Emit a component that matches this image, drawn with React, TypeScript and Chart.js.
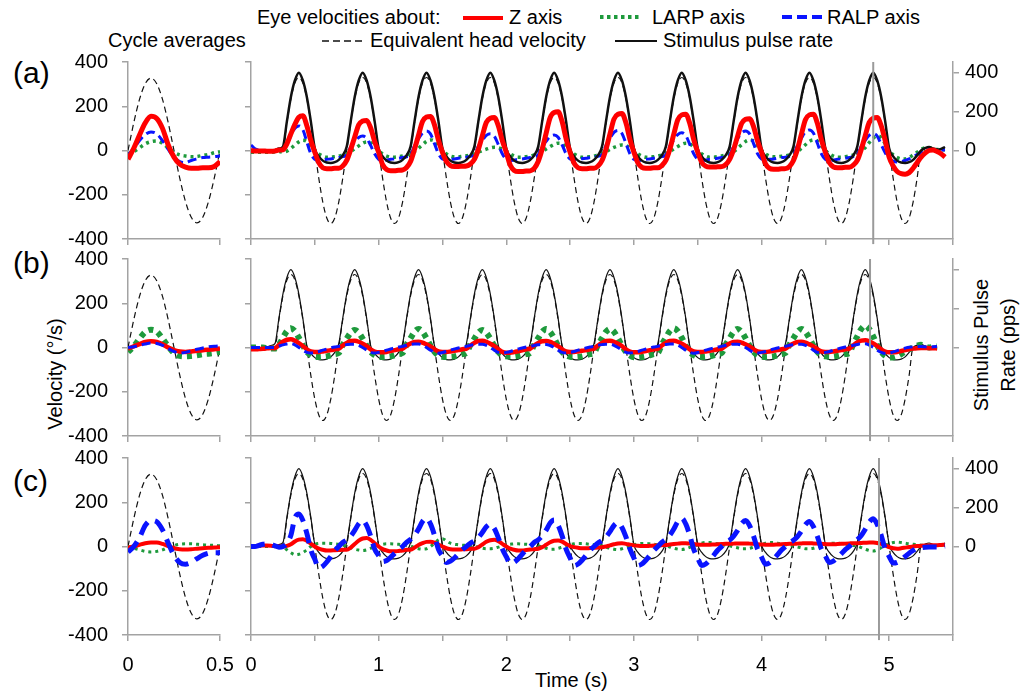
import React, { useEffect, useRef } from 'react';
import { Chart, registerables } from 'chart.js';

Chart.register(...registerables);

const FONT = "'Liberation Sans', Arial, Helvetica, sans-serif";
Chart.defaults.font.family = FONT;
Chart.defaults.font.size = 20;
Chart.defaults.color = '#000';

// ---------- sampling (1/32 s) ----------
const SAMPLE_RATE = 32; // samples per second
const N_SAMPLES = 175;
const SAMPLE_TIMES: number[] = Array.from({ length: N_SAMPLES }, (_, i) => i / SAMPLE_RATE);
const CYCLE_TIMES: number[] = [0, 0.03125, 0.0625, 0.09375, 0.125, 0.15625, 0.1875, 0.21875, 0.25, 0.28125, 0.3125, 0.34375, 0.375, 0.40625, 0.4375, 0.46875, 0.5];

// ---------- tick values ----------
const VEL_TICK_STEP = 200;
const PULSE_TICKS = [0, 200, 400];
const TIME_TICK_STEP = 0.5;

// ---------- vertical marker times (s) ----------
const MARK_A = 4.875;
const MARK_B = 4.85;
const MARK_C = 4.92;

// ---------- cycle averages (deg/s) ----------
const CYC_HEAD = [0, 125, 231, 302, 327, 302, 231, 125, 0, -125, -231, -302, -327, -302, -231, -125, 0];
const CYC_Z_A = [-40, 10, 70, 125, 155, 145, 100, 25, -30, -62, -75, -80, -80, -78, -78, -72, -50];
const CYC_RALP_A = [-20, 10, 45, 72, 84, 75, 45, 5, -30, -50, -55, -45, -38, -32, -30, -28, -25];
const CYC_LARP_A = [-15, -5, 12, 30, 40, 43, 32, 12, -8, -20, -25, -28, -27, -22, -18, -10, -5];
const CYC_Z_B = [-5, 5, 15, 25, 28, 25, 15, 0, -12, -18, -20, -18, -15, -12, -10, -8, -5];
const CYC_RALP_B = [0, 3, 10, 16, 20, 18, 10, -5, -18, -25, -22, -15, -8, -2, 3, 6, 8];
const CYC_LARP_B = [-20, 5, 40, 70, 80, 72, 40, 5, -25, -38, -40, -38, -35, -30, -28, -25, -20];
const CYC_Z_C = [-5, 0, 8, 15, 18, 18, 12, 2, -8, -12, -13, -12, -10, -8, -6, -5, -3];
const CYC_RALP_C = [-25, 0, 40, 95, 118, 112, 75, 15, -40, -72, -80, -72, -55, -40, -30, -28, -28];
const CYC_LARP_C = [0, -8, -15, -22, -25, -22, -15, -3, 5, 10, 12, 12, 10, 8, 6, 5, 3];

// ---------- time series, panels (a) and (c) timing ----------
const HEAD_A = [
  0, 0, 0, 0, 0, 0, 0, 0,
  0, 126, 233, 305, 330, 305, 233, 126, 0, -126, -233, -305, -330, -305, -233, -126,
  0, 126, 233, 305, 330, 305, 233, 126, 0, -126, -233, -305, -330, -305, -233, -126,
  0, 126, 233, 305, 330, 305, 233, 126, 0, -126, -233, -305, -330, -305, -233, -126,
  0, 126, 233, 305, 330, 305, 233, 126, 0, -126, -233, -305, -330, -305, -233, -126,
  0, 126, 233, 305, 330, 305, 233, 126, 0, -126, -233, -305, -330, -305, -233, -126,
  0, 126, 233, 305, 330, 305, 233, 126, 0, -126, -233, -305, -330, -305, -233, -126,
  0, 126, 233, 305, 330, 305, 233, 126, 0, -126, -233, -305, -330, -305, -233, -126,
  0, 126, 233, 305, 330, 305, 233, 126, 0, -126, -233, -305, -330, -305, -233, -126,
  0, 126, 233, 305, 330, 305, 233, 126, 0, -126, -233, -305, -330, -305, -233, -126,
  0, 126, 233, 305, 330, 305, 233, 126, 0, -126, -233, -305, -330, -305, -233, -126,
  0, 0, 0, 0, 0, 0, 0,
];
const PULSE_A = [
  0, 0, 0, 0, 0, 0, 2, 10,
  20, 150, 275, 360, 400, 360, 275, 150, 10, -30, -52, -62, -64, -60, -48, -25,
  20, 150, 275, 360, 400, 360, 275, 150, 10, -30, -52, -62, -64, -60, -48, -25,
  20, 150, 275, 360, 400, 360, 275, 150, 10, -30, -52, -62, -64, -60, -48, -25,
  20, 150, 275, 360, 400, 360, 275, 150, 10, -30, -52, -62, -64, -60, -48, -25,
  20, 150, 275, 360, 400, 360, 275, 150, 10, -30, -52, -62, -64, -60, -48, -25,
  20, 150, 275, 360, 400, 360, 275, 150, 10, -30, -52, -62, -64, -60, -48, -25,
  20, 150, 275, 360, 400, 360, 275, 150, 10, -30, -52, -62, -64, -60, -48, -25,
  20, 150, 275, 360, 400, 360, 275, 150, 10, -30, -52, -62, -64, -60, -48, -25,
  20, 150, 275, 360, 400, 360, 275, 150, 10, -30, -52, -62, -64, -60, -48, -25,
  20, 150, 275, 360, 400, 360, 275, 150, 10, -30, -52, -62, -64, -60, -48, -25,
  0, 12, 18, 10, 5, 8, 18,
];
const Z_A = [
  0, -2, -2, -2, -3, -3, -2, 2,
  3, 30, 75, 118, 150, 157, 112, 45, -8, -55, -78, -82, -82, -80, -80, -70,
  -45, 5, 61, 116, 133, 136, 102, 41, -8, -64, -86, -91, -91, -89, -88, -77,
  -50, 6, 69, 131, 151, 154, 116, 46, -8, -50, -68, -72, -72, -71, -70, -61,
  -40, 5, 67, 127, 146, 149, 112, 45, -8, -67, -90, -95, -95, -93, -92, -81,
  -50, 6, 79, 149, 172, 175, 131, 53, -8, -57, -78, -82, -82, -80, -80, -70,
  -45, 6, 75, 142, 164, 167, 125, 50, -8, -56, -76, -80, -80, -78, -78, -68,
  -45, 6, 74, 139, 161, 164, 123, 49, -8, -53, -71, -75, -75, -74, -73, -64,
  -40, 5, 65, 122, 141, 144, 108, 43, -8, -60, -81, -85, -85, -83, -82, -72,
  -45, 6, 74, 139, 161, 164, 123, 49, -8, -55, -74, -78, -78, -76, -76, -66,
  -45, 5, 67, 127, 146, 149, 112, 45, -30, -70, -95, -105, -107, -100, -80, -55,
  -30, -12, 0, 2, -5, -15, -30,
];
const RALP_A = [
  25, 8, 2, 0, 0, 0, 0, 0,
  0, 28, 67, 100, 111, 94, 39, -15, -40, -45, -43, -40, -38, -35, -32, -28,
  -20, 16, 39, 59, 65, 55, 23, -15, -40, -45, -43, -40, -38, -35, -32, -28,
  -20, 22, 53, 79, 88, 75, 31, -15, -38, -42, -40, -38, -35, -32, -30, -26,
  -20, 19, 46, 68, 76, 65, 27, -15, -40, -45, -43, -40, -38, -35, -32, -28,
  -20, 18, 42, 63, 70, 60, 25, -15, -38, -42, -40, -37, -35, -32, -30, -26,
  -20, 23, 55, 82, 91, 77, 32, -15, -40, -45, -43, -40, -38, -35, -32, -28,
  -20, 20, 48, 72, 80, 68, 28, -15, -40, -45, -43, -40, -38, -35, -32, -28,
  -20, 22, 53, 79, 88, 75, 31, -15, -38, -42, -40, -38, -35, -32, -30, -26,
  -20, 23, 56, 84, 93, 79, 33, -15, -40, -45, -43, -40, -38, -35, -32, -28,
  -20, 19, 46, 68, 76, 65, 27, -10, -35, -48, -52, -50, -45, -38, -28, -18,
  -8, 0, 5, 5, 3, 2, 3,
];
const LARP_A = [
  -8, -8, -8, -8, -8, -8, -6, -4,
  -8, -3, 9, 25, 39, 46, 41, 21, 0, -15, -25, -30, -30, -28, -25, -20,
  -15, -5, 8, 21, 33, 39, 35, 18, 0, -15, -25, -30, -30, -28, -25, -20,
  -15, -5, 10, 26, 41, 48, 43, 22, 0, -15, -25, -28, -28, -26, -24, -20,
  -15, -8, 0, 6, 12, 15, 13, 6, -3, -15, -25, -30, -30, -28, -25, -20,
  -15, -5, 7, 18, 28, 33, 30, 15, 0, -15, -25, -30, -30, -28, -25, -20,
  -15, -6, 5, 14, 21, 25, 22, 11, 0, -15, -25, -30, -30, -28, -25, -20,
  -15, -5, 7, 18, 28, 33, 30, 15, 0, -15, -25, -30, -30, -28, -25, -20,
  -15, -5, 10, 26, 41, 48, 43, 22, 0, -15, -25, -28, -28, -26, -24, -20,
  -15, -5, 10, 26, 41, 48, 43, 22, 0, -15, -25, -30, -30, -28, -25, -20,
  -15, -3, 13, 36, 56, 66, 59, 30, 0, -20, -32, -38, -38, -32, -20, -8,
  5, 12, 12, 8, 5, 3, 3,
];

// ---------- time series, panel (b) timing ----------
const HEAD_B = [
  0, 0, 0, 0, 0, 0,
  0, 126, 233, 305, 330, 305, 233, 126, 0, -126, -233, -305, -330, -305, -233, -126,
  0, 126, 233, 305, 330, 305, 233, 126, 0, -126, -233, -305, -330, -305, -233, -126,
  0, 126, 233, 305, 330, 305, 233, 126, 0, -126, -233, -305, -330, -305, -233, -126,
  0, 126, 233, 305, 330, 305, 233, 126, 0, -126, -233, -305, -330, -305, -233, -126,
  0, 126, 233, 305, 330, 305, 233, 126, 0, -126, -233, -305, -330, -305, -233, -126,
  0, 126, 233, 305, 330, 305, 233, 126, 0, -126, -233, -305, -330, -305, -233, -126,
  0, 126, 233, 305, 330, 305, 233, 126, 0, -126, -233, -305, -330, -305, -233, -126,
  0, 126, 233, 305, 330, 305, 233, 126, 0, -126, -233, -305, -330, -305, -233, -126,
  0, 126, 233, 305, 330, 305, 233, 126, 0, -126, -233, -305, -330, -305, -233, -126,
  0, 126, 233, 305, 330, 305, 233, 126, 0, -126, -233, -305, -330, -305, -233, -126,
  0, 0, 0, 0, 0, 0, 0, null, null,
];
const PULSE_B = [
  0, 0, 0, 0, 2, 10,
  20, 150, 275, 360, 400, 360, 275, 150, 10, -30, -52, -62, -64, -60, -48, -25,
  20, 150, 275, 360, 400, 360, 275, 150, 10, -30, -52, -62, -64, -60, -48, -25,
  20, 150, 275, 360, 400, 360, 275, 150, 10, -30, -52, -62, -64, -60, -48, -25,
  20, 150, 275, 360, 400, 360, 275, 150, 10, -30, -52, -62, -64, -60, -48, -25,
  20, 150, 275, 360, 400, 360, 275, 150, 10, -30, -52, -62, -64, -60, -48, -25,
  20, 150, 275, 360, 400, 360, 275, 150, 10, -30, -52, -62, -64, -60, -48, -25,
  20, 150, 275, 360, 400, 360, 275, 150, 10, -30, -52, -62, -64, -60, -48, -25,
  20, 150, 275, 360, 400, 360, 275, 150, 10, -30, -52, -62, -64, -60, -48, -25,
  20, 150, 275, 360, 400, 360, 275, 150, 10, -30, -52, -62, -64, -60, -48, -25,
  20, 150, 275, 360, 400, 360, 275, 150, 10, -30, -52, -62, -64, -60, -48, -25,
  0, 12, 16, 8, 3, 6, 8, null, null,
];
const Z_B = [
  -8, -8, -7, -6, -4, -2,
  -3, 11, 26, 35, 37, 31, 20, 7, -8, -18, -20, -20, -18, -15, -12, -8,
  -5, 9, 21, 29, 30, 26, 17, 6, -8, -18, -22, -22, -20, -16, -12, -8,
  -5, 8, 18, 25, 26, 22, 14, 5, -8, -18, -20, -20, -18, -15, -12, -8,
  -5, 9, 21, 29, 30, 26, 17, 6, -8, -20, -24, -24, -21, -17, -13, -8,
  -5, 9, 20, 28, 29, 25, 16, 6, -8, -18, -20, -20, -18, -15, -12, -8,
  -5, 9, 21, 29, 30, 26, 17, 6, -8, -18, -22, -22, -20, -16, -12, -8,
  -5, 9, 21, 29, 30, 26, 17, 6, -8, -18, -20, -20, -18, -15, -12, -8,
  -5, 8, 18, 25, 26, 22, 14, 5, -8, -18, -20, -20, -18, -15, -12, -8,
  -5, 8, 18, 25, 26, 22, 14, 5, -8, -18, -20, -20, -18, -15, -12, -8,
  -5, 10, 23, 31, 33, 28, 18, 7, -8, -18, -22, -22, -20, -16, -12, -8,
  -5, -3, -2, -2, -3, -3, -4, null, null,
];
const RALP_B = [
  0, 0, 0, 0, 0, 0,
  0, 6, 12, 16, 18, 12, 0, -12, -22, -25, -22, -18, -12, -7, -2, 2,
  5, 10, 13, 15, 15, 10, 0, -12, -22, -25, -22, -18, -12, -7, -2, 2,
  5, 10, 14, 16, 16, 11, 0, -12, -22, -26, -23, -18, -12, -7, -2, 2,
  5, 10, 13, 15, 15, 10, 0, -12, -22, -25, -22, -18, -12, -7, -2, 2,
  5, 9, 12, 14, 14, 9, 0, -12, -22, -25, -22, -18, -12, -7, -2, 2,
  5, 10, 13, 15, 15, 10, 0, -12, -22, -25, -22, -18, -12, -7, -2, 2,
  5, 10, 14, 16, 16, 11, 0, -12, -22, -26, -23, -18, -12, -7, -2, 2,
  5, 10, 13, 15, 15, 10, 0, -12, -22, -25, -22, -18, -12, -7, -2, 2,
  5, 10, 13, 15, 15, 10, 0, -12, -22, -25, -22, -18, -12, -7, -2, 2,
  5, 10, 14, 17, 17, 11, 0, -12, -22, -27, -25, -20, -14, -8, -3, 1,
  3, 4, 4, 3, 2, 3, 4, null, null,
];
const LARP_B = [
  0, 0, 0, 0, -3, -5,
  -5, 13, 44, 74, 87, 74, 44, 9, -20, -35, -42, -43, -42, -40, -35, -30,
  -25, 12, 40, 67, 79, 67, 40, 8, -20, -35, -42, -43, -42, -40, -35, -30,
  -25, 13, 42, 71, 84, 71, 42, 8, -20, -35, -42, -43, -42, -40, -35, -30,
  -25, 12, 40, 67, 79, 67, 40, 8, -20, -35, -40, -42, -41, -38, -34, -30,
  -25, 13, 42, 71, 84, 71, 42, 8, -20, -35, -42, -43, -42, -40, -35, -30,
  -25, 13, 42, 71, 84, 71, 42, 8, -20, -36, -44, -45, -43, -40, -35, -30,
  -25, 13, 44, 74, 87, 74, 44, 9, -20, -35, -42, -43, -42, -40, -35, -30,
  -25, 13, 42, 71, 84, 71, 42, 8, -20, -35, -42, -43, -42, -40, -35, -30,
  -25, 13, 42, 71, 84, 71, 42, 8, -20, -35, -40, -42, -41, -38, -34, -30,
  -25, 15, 50, 84, 99, 84, 50, 10, -20, -38, -45, -45, -40, -30, -18, -8,
  0, 8, 12, 5, 0, 3, 5, null, null,
];

// ---------- time series, panel (c) (same timing as (a)) ----------
const Z_C = [
  0, 2, 4, 5, 4, 3, 2, 0,
  0, 3, 10, 23, 31, 33, 26, 13, 0, -10, -15, -18, -18, -17, -16, -15,
  -15, -5, 11, 27, 36, 38, 30, 15, 0, -12, -18, -22, -22, -20, -18, -15,
  -15, -5, 7, 15, 21, 22, 18, 9, 0, -8, -12, -14, -14, -13, -12, -10,
  -10, -3, 9, 21, 28, 30, 24, 12, 0, -10, -15, -18, -18, -16, -14, -12,
  -10, -3, 8, 19, 26, 27, 22, 11, 2, -3, -6, -8, -8, -7, -6, -5,
  -3, 0, 5, 10, 14, 15, 12, 8, 5, 3, 2, 2, 3, 4, 5, 6,
  7, 9, 11, 13, 15, 15, 13, 11, 9, 8, 8, 8, 9, 10, 11, 12,
  12, 13, 14, 14, 14, 13, 12, 10, 9, 8, 8, 8, 9, 10, 11, 12,
  12, 13, 14, 15, 15, 14, 13, 12, 11, 10, 10, 11, 12, 13, 14, 15,
  15, 16, 17, 18, 18, 16, 12, 5, -3, -8, -10, -8, -5, -2, 0, 2,
  3, 4, 5, 6, 6, 7, 8,
];
const RALP_C = [
  0, 0, 5, 10, 12, 10, 3, -3,
  0, 15, 51, 129, 147, 118, 59, -15, -58, -97, -89, -70, -45, -19, 0, 18,
  29, 47, 73, 103, 117, 94, 47, -12, -41, -68, -63, -49, -31, -14, 0, 19,
  32, 51, 79, 113, 128, 102, 51, -13, -43, -72, -66, -52, -33, -14, 0, 15,
  25, 40, 63, 89, 101, 81, 40, -10, -46, -77, -71, -55, -35, -15, 0, 18,
  30, 48, 74, 106, 120, 96, 48, -12, -52, -86, -79, -62, -40, -17, 0, 16,
  27, 43, 67, 95, 108, 86, 43, -11, -52, -86, -79, -62, -40, -17, 0, 19,
  32, 51, 79, 113, 128, 102, 51, -13, -52, -86, -79, -62, -40, -17, 0, 18,
  29, 47, 73, 103, 117, 94, 47, -12, -48, -80, -74, -58, -37, -16, 0, 17,
  28, 45, 70, 99, 113, 90, 45, -11, -43, -72, -66, -52, -33, -14, 0, 19,
  31, 50, 78, 110, 125, 100, 50, -12, -45, -75, -72, -60, -45, -30, -18, -8,
  -5, -3, -2, -2, -2, 0, 2,
];
const LARP_C = [
  0, 0, 0, 0, 0, 0, 0, 0,
  0, -15, -28, -37, -35, -28, -15, 0, 10, 14, 15, 15, 14, 12, 10, 6,
  2, -5, -12, -16, -18, -15, -8, 0, 6, 10, 12, 12, 11, 10, 8, 5,
  2, -5, -10, -12, -10, 0, 15, 30, 35, 25, 15, 10, 8, 6, 5, 4,
  2, -3, -8, -10, -10, -8, -3, 2, 8, 10, 12, 12, 11, 10, 8, 5,
  3, -3, -8, -12, -12, -8, -3, 2, 8, 12, 14, 14, 12, 10, 8, 5,
  3, -3, -8, -12, -14, -10, -4, 2, 8, 12, 14, 14, 12, 10, 8, 5,
  3, -2, -8, -12, -14, -10, -4, 2, 8, 15, 18, 18, 15, 12, 8, 5,
  3, -2, -6, -10, -10, -8, -3, 2, 8, 15, 18, 18, 15, 12, 8, 5,
  3, -2, -6, -10, -10, -8, -3, 2, 8, 12, 15, 15, 13, 10, 8, 5,
  3, -5, -12, -18, -20, -15, -5, 5, 12, 18, 20, 18, 15, 12, 10, 8,
  6, 5, 5, 4, 4, 5, 6,
];

// ---------- styling ----------
const RED = '#ff0000';
const GREEN = '#1e9a3c';
const BLUE = '#0a14ff';
const BLACK = '#111111';
const AXIS_COLOR = '#a3a3a3';
const MARK_COLOR = '#9a9a9a';
const PLOT_H = 177;
const PAD_TOP = 30;

function pts(times: number[], values: (number | null)[]) {
  return times.map((t, i) => ({ x: t, y: values[i] === undefined ? null : values[i] }));
}

function ds(label: string, data: any[], color: string, width: number, dash: number[], yAxisID = 'y') {
  return {
    label,
    data,
    borderColor: color,
    backgroundColor: color,
    borderWidth: width,
    borderDash: dash,
    borderCapStyle: 'butt',
    borderJoinStyle: 'round',
    pointRadius: 0,
    cubicInterpolationMode: 'monotone',
    fill: false,
    spanGaps: false,
    yAxisID,
  };
}

function markDs(t: number) {
  return {
    label: 'mark',
    data: [{ x: t, y: -423 }, { x: t, y: 400 }],
    borderColor: MARK_COLOR,
    borderWidth: 2,
    pointRadius: 0,
    tension: 0,
    clip: false,
    yAxisID: 'y',
  };
}

function axisStyle() {
  return {
    border: { display: true, color: AXIS_COLOR, width: 1.5 },
    grid: { drawOnChartArea: false, drawTicks: true, tickLength: 6, color: AXIS_COLOR, lineWidth: 1.5 },
  };
}

function baseOptions(paddingRight: number) {
  return {
    animation: false,
    responsive: false,
    devicePixelRatio: 1,
    events: [],
    layout: { padding: { top: PAD_TOP, right: paddingRight, left: 0, bottom: 0 } },
    plugins: { legend: { display: false }, tooltip: { enabled: false }, title: { display: false } },
  };
}

// x labels are drawn as a second line so that they sit well below the axis
const X_TICK_FONT = { size: 20, family: FONT, lineHeight: 0.83 };

function cycleConfig(datasets: any[], bottomH: number, showX: boolean) {
  return {
    type: 'line',
    data: { datasets },
    options: {
      ...baseOptions(20),
      scales: {
        x: {
          type: 'linear', min: 0, max: 0.5, ...axisStyle(),
          ticks: { stepSize: TIME_TICK_STEP, autoSkip: false, maxRotation: 0, padding: 0, color: '#000', font: X_TICK_FONT,
            callback: (v: number) => (showX ? ['', String(v)] : '') },
          afterFit: (s: any) => { s.height = bottomH; },
        },
        y: {
          type: 'linear', min: -400, max: 400, ...axisStyle(),
          ticks: { stepSize: VEL_TICK_STEP, autoSkip: false, padding: 14, color: '#000', font: { size: 20, family: FONT } },
          afterFit: (s: any) => { s.width = 128; },
        },
      },
    },
  };
}

function timeConfig(datasets: any[], bottomH: number, showX: boolean, showRight: boolean) {
  return {
    type: 'line',
    data: { datasets },
    options: {
      ...baseOptions(0),
      scales: {
        x: {
          type: 'linear', min: 0, max: 5.5, ...axisStyle(),
          ticks: { stepSize: TIME_TICK_STEP, autoSkip: false, maxRotation: 0, includeBounds: false, padding: 0, color: '#000', font: X_TICK_FONT,
            callback: (v: number) => (showX && Number.isInteger(v) ? ['', String(v)] : '') },
          afterFit: (s: any) => { s.height = bottomH; },
        },
        y: {
          type: 'linear', position: 'left', min: -400, max: 400, ...axisStyle(),
          ticks: { stepSize: VEL_TICK_STEP, autoSkip: false, padding: 0, callback: () => '' },
          afterFit: (s: any) => { s.width = 11; },
        },
        y2: {
          type: 'linear', position: 'right', min: -455, max: 455, ...axisStyle(),
          afterBuildTicks: (s: any) => { s.ticks = PULSE_TICKS.map((v) => ({ value: v })); },
          ticks: { autoSkip: false, padding: 6, color: '#000', font: { size: 20, family: FONT },
            callback: (v: number) => (showRight ? String(v) : '') },
          afterFit: (s: any) => { s.width = 68; },
        },
      },
    },
  };
}

function ChartCanvas({ left, top, width, height, make }: { left: number; top: number; width: number; height: number; make: () => any }) {
  const ref = useRef<HTMLCanvasElement | null>(null);
  useEffect(() => {
    if (!ref.current) return;
    const chart = new Chart(ref.current, make());
    return () => chart.destroy();
  }, []);
  return (
    <canvas
      ref={ref}
      width={width}
      height={height}
      style={{ position: 'absolute', left, top, width, height, display: 'block' }}
    />
  );
}

type Row = {
  key: string;
  top: number;
  bottomH: number;
  showX: boolean;
  showRight: boolean;
  cycle: any[];
  series: any[];
};

function buildRows(): Row[] {
  const headCyc = (w: number) => ds('Equivalent head velocity', pts(CYCLE_TIMES, CYC_HEAD), BLACK, w, [6, 4]);
  return [
    {
      key: 'a', top: 62, bottomH: 30, showX: false, showRight: true,
      cycle: [
        ds('Z axis', pts(CYCLE_TIMES, CYC_Z_A), RED, 5, []),
        ds('RALP axis', pts(CYCLE_TIMES, CYC_RALP_A), BLUE, 3, [9, 5]),
        ds('LARP axis', pts(CYCLE_TIMES, CYC_LARP_A), GREEN, 3.5, [3, 4]),
        headCyc(1.2),
      ],
      series: [
        markDs(MARK_A),
        ds('Z axis', pts(SAMPLE_TIMES, Z_A), RED, 5, []),
        ds('Stimulus pulse rate', pts(SAMPLE_TIMES, PULSE_A), BLACK, 2.5, [], 'y2'),
        ds('RALP axis', pts(SAMPLE_TIMES, RALP_A), BLUE, 3, [9, 5]),
        ds('LARP axis', pts(SAMPLE_TIMES, LARP_A), GREEN, 3.5, [3, 4]),
        ds('Equivalent head velocity', pts(SAMPLE_TIMES, HEAD_A), BLACK, 1.2, [6, 4]),
      ],
    },
    {
      key: 'b', top: 259, bottomH: 30, showX: false, showRight: false,
      cycle: [
        ds('RALP axis', pts(CYCLE_TIMES, CYC_RALP_B), BLUE, 3, [9, 5]),
        ds('Z axis', pts(CYCLE_TIMES, CYC_Z_B), RED, 4.5, []),
        ds('LARP axis', pts(CYCLE_TIMES, CYC_LARP_B), GREEN, 6, [5, 5]),
        headCyc(1.2),
      ],
      series: [
        markDs(MARK_B),
        ds('RALP axis', pts(SAMPLE_TIMES, RALP_B), BLUE, 3, [9, 5]),
        ds('Z axis', pts(SAMPLE_TIMES, Z_B), RED, 4.5, []),
        ds('LARP axis', pts(SAMPLE_TIMES, LARP_B), GREEN, 6, [5, 5]),
        ds('Stimulus pulse rate', pts(SAMPLE_TIMES, PULSE_B), BLACK, 1.2, [], 'y2'),
        ds('Equivalent head velocity', pts(SAMPLE_TIMES, HEAD_B), BLACK, 1.2, [6, 4]),
      ],
    },
    {
      key: 'c', top: 458, bottomH: 50, showX: true, showRight: true,
      cycle: [
        ds('RALP axis', pts(CYCLE_TIMES, CYC_RALP_C), BLUE, 5, [14, 8]),
        ds('Z axis', pts(CYCLE_TIMES, CYC_Z_C), RED, 4, []),
        ds('LARP axis', pts(CYCLE_TIMES, CYC_LARP_C), GREEN, 3, [3, 4]),
        headCyc(1.2),
      ],
      series: [
        markDs(MARK_C),
        ds('RALP axis', pts(SAMPLE_TIMES, RALP_C), BLUE, 5, [14, 8]),
        ds('Z axis', pts(SAMPLE_TIMES, Z_C), RED, 4, []),
        ds('LARP axis', pts(SAMPLE_TIMES, LARP_C), GREEN, 3, [3, 4]),
        ds('Stimulus pulse rate', pts(SAMPLE_TIMES, PULSE_A), BLACK, 1.2, [], 'y2'),
        ds('Equivalent head velocity', pts(SAMPLE_TIMES, HEAD_A), BLACK, 1.2, [6, 4]),
      ],
    },
  ];
}

const TEXT: React.CSSProperties = {
  position: 'absolute',
  fontFamily: FONT,
  fontSize: 20,
  lineHeight: 1,
  whiteSpace: 'nowrap',
  color: '#000',
};

function Sample({ left, top, width, color, stroke, dash }: { left: number; top: number; width: number; color: string; stroke: number; dash?: string }) {
  return (
    <svg style={{ position: 'absolute', left, top: top - 4 }} width={width} height={8}>
      <line x1={0} y1={4} x2={width} y2={4} stroke={color} strokeWidth={stroke} strokeDasharray={dash} />
    </svg>
  );
}

export default function App() {
  const rows = buildRows();
  return (
    <div style={{ position: 'absolute', left: 0, top: 0, width: 1021, height: 694, background: '#fff', overflow: 'hidden' }}>
      {/* legend */}
      <div style={{ ...TEXT, left: 257, top: 7 }}>Eye velocities about:</div>
      <Sample left={463} top={18} width={40} color={RED} stroke={4} />
      <div style={{ ...TEXT, left: 509, top: 7 }}>Z axis</div>
      <Sample left={600} top={17} width={42} color={GREEN} stroke={4} dash="3.5 3.5" />
      <div style={{ ...TEXT, left: 652, top: 7 }}>LARP axis</div>
      <Sample left={782} top={17} width={42} color={BLUE} stroke={4} dash="10 5" />
      <div style={{ ...TEXT, left: 827, top: 7 }}>RALP axis</div>
      <div style={{ ...TEXT, left: 108, top: 30 }}>Cycle averages</div>
      <Sample left={322} top={41} width={43} color={BLACK} stroke={1.6} dash="7 4" />
      <div style={{ ...TEXT, left: 370, top: 30 }}>Equivalent head velocity</div>
      <Sample left={615} top={41} width={42} color={BLACK} stroke={2} />
      <div style={{ ...TEXT, left: 663, top: 30 }}>Stimulus pulse rate</div>

      {/* panel letters */}
      <div style={{ ...TEXT, fontSize: 30, left: 13, top: 58 }}>(a)</div>
      <div style={{ ...TEXT, fontSize: 30, left: 13, top: 248 }}>(b)</div>
      <div style={{ ...TEXT, fontSize: 30, left: 13, top: 466 }}>(c)</div>

      {/* axis titles */}
      <div style={{ ...TEXT, left: 55, top: 374, transform: 'translate(-50%, -50%) rotate(-90deg)' }}>Velocity (°/s)</div>
      <div style={{ ...TEXT, left: 995, top: 345, lineHeight: '27px', textAlign: 'center', transform: 'translate(-50%, -50%) rotate(-90deg)' }}>
        Stimulus Pulse<br />Rate (pps)
      </div>
      <div style={{ ...TEXT, left: 535, top: 670 }}>Time (s)</div>

      {rows.map((r) => (
        <React.Fragment key={r.key}>
          <ChartCanvas
            left={0}
            top={r.top - PAD_TOP}
            width={240}
            height={PAD_TOP + PLOT_H + r.bottomH}
            make={() => cycleConfig(r.cycle, r.bottomH, r.showX)}
          />
          <ChartCanvas
            left={240}
            top={r.top - PAD_TOP}
            width={781}
            height={PAD_TOP + PLOT_H + r.bottomH}
            make={() => timeConfig(r.series, r.bottomH, r.showX, r.showRight)}
          />
        </React.Fragment>
      ))}
    </div>
  );
}
